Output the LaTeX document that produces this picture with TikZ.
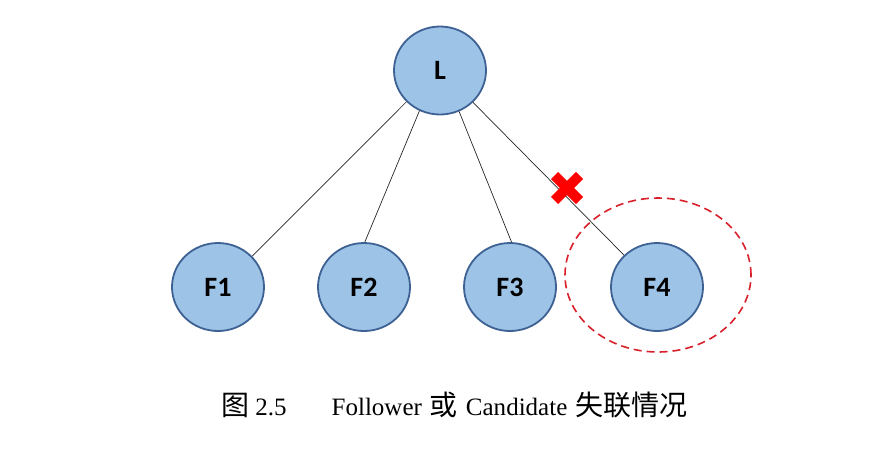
\documentclass[tikz,border=0pt]{standalone}
\usepackage{fontspec}
\usetikzlibrary{shapes.geometric,calc}
\setmainfont{Liberation Serif}
\newfontfamily\nodefont{Carlito}
\newfontfamily\cjk[Scale=1.12]{Noto Sans CJK SC}
\definecolor{nodefill}{HTML}{9DC3E6}
\definecolor{nodeedge}{HTML}{3E6194}
\definecolor{lostred}{HTML}{D9202A}
\begin{document}
\begin{tikzpicture}[x=1pt,y=-1pt,
  member/.style={ellipse,draw=nodeedge,fill=nodefill,line width=1.8pt,
    minimum width=92pt,minimum height=88pt,inner sep=0pt,
    font=\nodefont\bfseries\fontsize{28}{30}\selectfont},
  link/.style={draw=black!85,line width=0.7pt},
  crossarm/.style={draw=red,line width=10pt},
  lostring/.style={draw=lostred,dashed,line width=1.6pt,dash pattern=on 8pt off 5pt}]
\useasboundingbox (0,0) rectangle (893,448);
\node[member] (L) at (440,70.5) {L};
\node[member] (F1) at (218,287) {F1};
\node[member] (F2) at (364,287) {F2};
\node[member] (F3) at (510,287) {F3};
\node[member] (F4) at (657,287) {F4};
\node[lostring,ellipse,minimum width=186pt,minimum height=154pt] (ring) at (658,275) {};
\draw[link] (L.223) -- (F1.42);
\draw[link] (L.243) -- (F2.89);
\draw[link] (L.295) -- (F3.88);
\draw[link] (L.316) -- (F4.136);
\coordinate (x) at (567,188);
\draw[crossarm] ($(x)+(-12.5,-12.5)$) -- ($(x)+(12.5,12.5)$);
\draw[crossarm] ($(x)+(-12.5,12.5)$) -- ($(x)+(12.5,-12.5)$);
\node[font=\fontsize{25}{28}\selectfont,anchor=west,inner sep=0pt] (cap) at (221,405) {{\cjk 图} 2.5\hspace{45pt}Follower\hspace{8pt}{\cjk 或}\hspace{8pt}Candidate\hspace{8pt}{\cjk 失联情况}};
\end{tikzpicture}
\end{document}
